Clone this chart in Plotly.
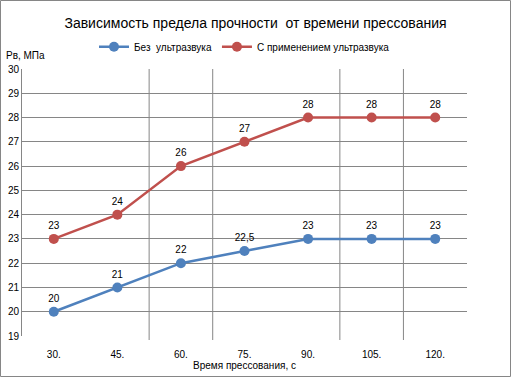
import plotly.graph_objects as go

categories = ["30.", "45.", "60.", "75.", "90.", "105.", "120."]
no_us = [20, 21, 22, 22.5, 23, 23, 23]
no_us_labels = ["20", "21", "22", "22,5", "23", "23", "23"]
with_us = [23, 24, 26, 27, 28, 28, 28]
with_us_labels = ["23", "24", "26", "27", "28", "28", "28"]
grid_x = [1.5, 2.5, 4.5, 5.5]

x = list(range(len(categories)))
blue = "#4F81BD"
red = "#C0504D"
font = "Liberation Sans"

fig = go.Figure()
fig.add_trace(go.Scatter(x=x, y=no_us, mode="lines+markers+text", name="Без  ультразвука",
                         line=dict(color=blue, width=2.5), marker=dict(size=10, color=blue),
                         text=no_us_labels, textposition="top center",
                         textfont=dict(size=10, color="black", family=font)))
fig.add_trace(go.Scatter(x=x, y=with_us, mode="lines+markers+text", name="С применением ультразвука",
                         line=dict(color=red, width=2.5), marker=dict(size=10, color=red),
                         text=with_us_labels, textposition="top center",
                         textfont=dict(size=10, color="black", family=font)))

shapes = []
for gx in grid_x:
    shapes.append(dict(type="line", xref="x", yref="paper", x0=gx, x1=gx, y0=-0.015, y1=1,
                       line=dict(color="#868686", width=1), layer="below"))
shapes.append(dict(type="rect", xref="paper", yref="paper", x0=-21.5/445, x1=488.5/445,
                   y0=-40.5/267, y1=335.5/267, line=dict(color="#868686", width=1)))

fig.update_layout(
    width=511, height=377,
    margin=dict(l=22, r=44, t=69, b=41, autoexpand=False),
    paper_bgcolor="white", plot_bgcolor="white",
    font=dict(family=font, size=10, color="black"),
    title=dict(text="Зависимость предела прочности  от времени прессования",
               x=0.5, xanchor="center", y=0.94, yanchor="middle",
               font=dict(size=14, family=font, color="black")),
    legend=dict(orientation="h", x=0.5, xanchor="center", y=1.083, yanchor="middle",
                font=dict(size=10, family=font), itemwidth=30, bgcolor="rgba(0,0,0,0)"),
    xaxis=dict(range=[-0.5, 6.5], tickvals=x, ticktext=categories, showgrid=False,
               zeroline=False, showline=False, ticks="", tickfont=dict(size=10),
               automargin=False, ticklabelstandoff=11,
               title=dict(text="Время прессования, с", font=dict(size=10), standoff=1)),
    yaxis=dict(range=[19, 30], dtick=1, showgrid=True, gridcolor="#868686", gridwidth=1,
               zeroline=False, showline=True, linecolor="#868686", linewidth=1,
               ticks="", tickfont=dict(size=10), automargin=False),
    shapes=shapes,
    annotations=[dict(text="Рв, МПа", xref="paper", yref="paper", x=-18/445, y=(336-55)/267,
                      xanchor="left", yanchor="middle", showarrow=False, font=dict(size=10)),
                 ],
    showlegend=True,
)
fig.write_html("out.html", config={"displayModeBar": False},
               post_script="document.body.style.margin='0';document.body.style.overflow='hidden';")
